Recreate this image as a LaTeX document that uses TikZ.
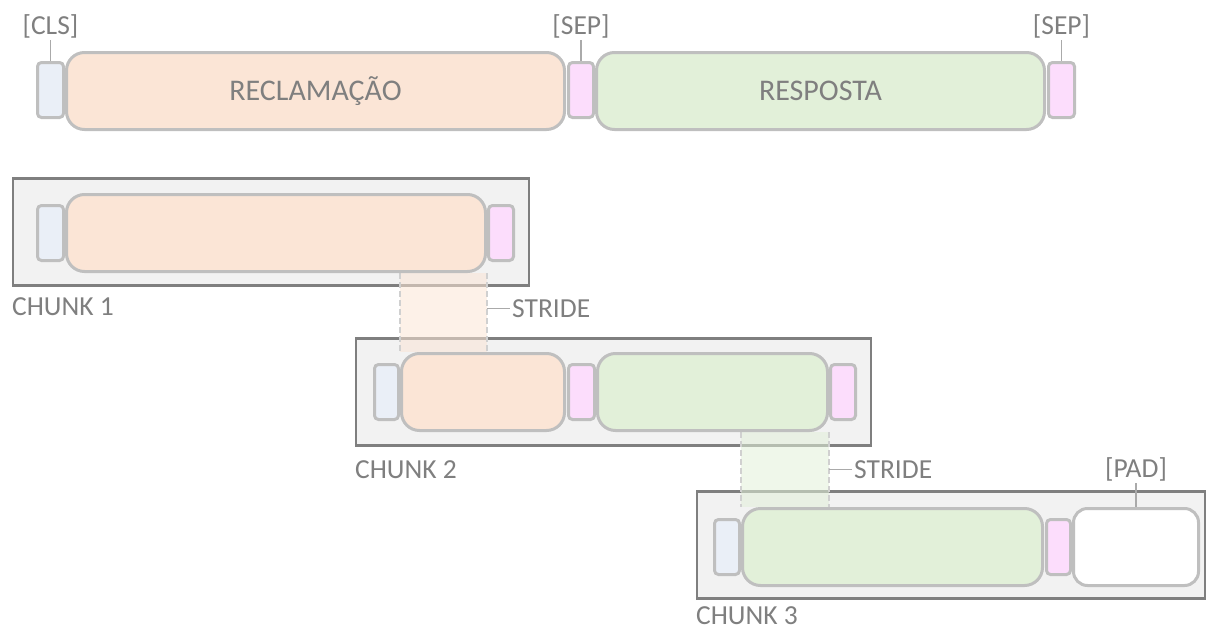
\documentclass[tikz,border=0pt]{standalone}
\usepackage{fontspec}
\setmainfont{Carlito}
\usepackage{tikz}
\usetikzlibrary{positioning,calc,backgrounds}
\newcommand{\bigtxt}{\fontsize{30}{36}\selectfont}
\newcommand{\midtxt}{\fontsize{27.5}{33}\selectfont}
\definecolor{tokline}{RGB}{191,191,191}
\definecolor{frameline}{RGB}{127,127,127}
\definecolor{framefill}{RGB}{242,242,242}
\definecolor{clsfill}{RGB}{234,239,247}
\definecolor{sepfill}{RGB}{252,221,252}
\definecolor{recfill}{RGB}{251,229,214}
\definecolor{resfill}{RGB}{226,240,217}
\definecolor{txtgray}{RGB}{127,127,127}
\definecolor{tickgray}{RGB}{170,170,170}
\definecolor{dashgray}{RGB}{208,208,208}

\begin{document}
\begin{tikzpicture}[x=1pt,y=-1pt,
   tok/.style={draw=tokline,line width=3pt,inner sep=0pt,text=txtgray},
   clsb/.style={tok,fill=clsfill,rounded corners=4pt,minimum width=26pt,minimum height=55pt},
   sepb/.style={tok,fill=sepfill,rounded corners=4pt,minimum width=26pt,minimum height=55pt},
   recb/.style={tok,fill=recfill,rounded corners=18pt,minimum height=77pt,font=\bigtxt},
   resb/.style={tok,fill=resfill,rounded corners=18pt,minimum height=77pt,font=\bigtxt},
   padb/.style={tok,fill=white,rounded corners=14pt,minimum height=77pt},
   chunkf/.style={draw=frameline,fill=framefill,line width=2.2pt,inner sep=0pt,minimum height=107pt},
   lbl/.style={text=txtgray,font=\midtxt,inner sep=2pt},
   tick/.style={draw=tickgray,line width=1.5pt},
   strideb/.style={fill opacity=0.55},
   dashl/.style={draw=dashgray,line width=1.5pt,dash pattern=on 6pt off 3pt}]
\useasboundingbox (0,0) rectangle (1208,632);

% full input sequence
\node[clsb] (cls0) at (50.5,90) {};
\node[recb,minimum width=498pt] (rec0) at (315.5,91) {RECLAMAÇÃO};
\node[sepb,minimum width=25pt] (sep0) at (581,90) {};
\node[resb,minimum width=448pt] (res0) at (820.5,91) {RESPOSTA};
\node[sepb] (sep1) at (1061.5,90) {};

\node[lbl,above=21pt of cls0.north] (tcls) {[CLS]};
\node[lbl,above=21pt of sep0.north] (tsep0) {[SEP]};
\node[lbl,above=21pt of sep1.north] (tsep1) {[SEP]};
\draw[tick] (tcls) -- (cls0);
\draw[tick] (tsep0) -- (sep0);
\draw[tick] (tsep1) -- (sep1);

% chunk 1
\node[clsb] (cls1) at (50.5,233) {};
\node[recb,minimum width=419pt] (rec1) at (276,233) {};
\node[sepb,minimum width=25pt] (sep1b) at (501,233) {};

% chunk 2
\node[clsb,minimum width=24pt] (cls2) at (386.5,392) {};
\node[recb,minimum width=163pt] (rec2) at (483,392) {};
\node[sepb] (sep2a) at (581.5,392) {};
\node[resb,minimum width=230pt] (res2) at (712.5,392) {};
\node[sepb,minimum width=25pt] (sep2b) at (843,392) {};

% chunk 3
\node[clsb,minimum width=25pt] (cls3) at (727,547) {};
\node[resb,minimum width=300pt] (res3) at (892.5,547) {};
\node[sepb,minimum width=24pt] (sep3) at (1058.5,547) {};
\node[padb,minimum width=125pt] (pad3) at (1136,547) {};

\node[lbl,above=24pt of pad3.north] (tpad) {[PAD]};
\draw[tick] (tpad) -- (pad3);

% frames and overlaps behind the tokens
\begin{pgfonlayer}{background}
\node[chunkf,minimum width=516pt] (ch1) at (271,232) {};
\node[chunkf,minimum width=515pt] (ch2) at (613.5,392) {};
\node[chunkf,minimum width=508pt] (ch3) at (951,545) {};

\fill[recfill,strideb] (rec2.north west |- rec1.south) rectangle (rec1.south east |- rec2.north);
\draw[dashl] (rec2.north west |- rec1.south) -- (rec2.north west);
\draw[dashl] (rec1.south east) -- (rec1.south east |- rec2.north);

\fill[resfill,strideb] (res3.north west |- res2.south) rectangle (res2.south east |- res3.north);
\draw[dashl] (res3.north west |- res2.south) -- (res3.north west);
\draw[dashl] (res2.south east) -- (res2.south east |- res3.north);
\end{pgfonlayer}

% stride labels
\coordinate (k1) at ($(rec1.south east)!0.45!(rec1.south east |- rec2.north)$);
\node[lbl,anchor=west] (str1) at ([xshift=23pt]k1) {STRIDE};
\draw[tick] (k1) -- (str1);
\coordinate (k2) at ($(res2.south east)!0.5!(res2.south east |- res3.north)$);
\node[lbl,anchor=west] (str2) at ([xshift=23pt]k2) {STRIDE};
\draw[tick] (k2) -- (str2);

% chunk names
\node[lbl,anchor=north west,inner sep=0pt] (lch1) at ([yshift=-11pt]ch1.south west) {CHUNK 1};
\node[lbl,anchor=north west,inner sep=0pt] (lch2) at ([yshift=-14pt]ch2.south west) {CHUNK 2};
\node[lbl,anchor=north west,inner sep=0pt] (lch3) at ([yshift=-7pt]ch3.south west) {CHUNK 3};
\end{tikzpicture}
\end{document}
